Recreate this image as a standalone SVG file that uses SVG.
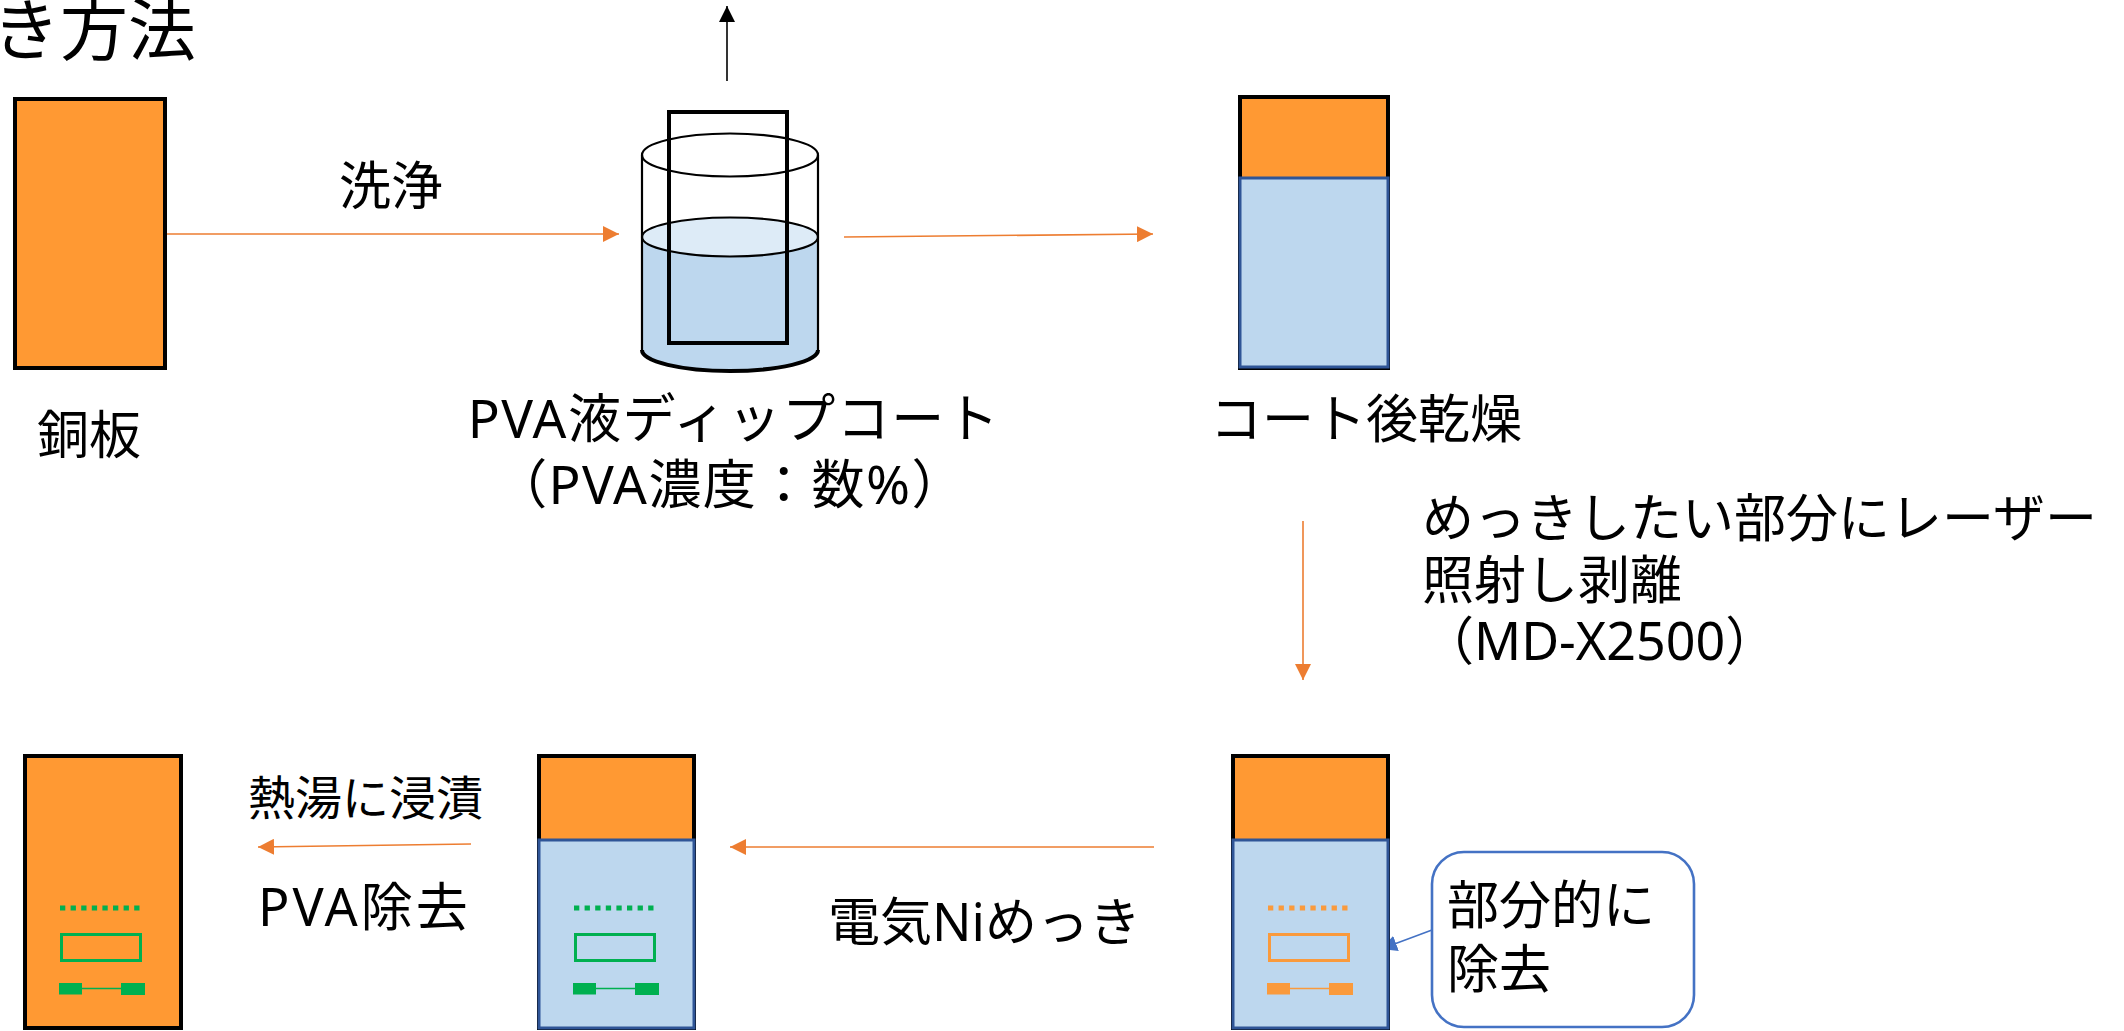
<svg xmlns="http://www.w3.org/2000/svg" width="2124" height="1031" viewBox="0 0 2124 1031">
  <style>
    text { font-family: "Noto Sans", "Noto Sans CJK JP", sans-serif; fill: #000; }
    .lbl { font-size: 52px; }
    .copper { fill: #FF9933; stroke: #000; stroke-width: 4; }
    .pva { fill: #BDD7EE; stroke: #2F5597; stroke-width: 3; }
    .flow { stroke: #ED7D31; stroke-width: 1.6; fill: none; marker-end: url(#ah-orange); }
    .lift { stroke: #000; stroke-width: 1.6; fill: none; marker-end: url(#ah-black); }
    .pointer { stroke: #4472C4; stroke-width: 1.6; fill: none; marker-end: url(#ah-blue); }
    .beaker-line { fill: none; stroke: #000; stroke-width: 2.2; }
  </style>
  <defs>
    <marker id="ah-orange" markerUnits="userSpaceOnUse" markerWidth="16" markerHeight="16" refX="15" refY="7.5" orient="auto" viewBox="0 0 15 15">
      <path d="M0,0 L15,7.5 L0,15 z" fill="#ED7D31"/>
    </marker>
    <marker id="ah-black" markerUnits="userSpaceOnUse" markerWidth="16" markerHeight="16" refX="15" refY="7.5" orient="auto" viewBox="0 0 15 15">
      <path d="M0,0 L15,7.5 L0,15 z" fill="#000"/>
    </marker>
    <marker id="ah-blue" markerUnits="userSpaceOnUse" markerWidth="16" markerHeight="16" refX="15" refY="7.5" orient="auto" viewBox="0 0 15 15">
      <path d="M0,0 L15,7.5 L0,15 z" fill="#4472C4"/>
    </marker>
    <!-- circuit pattern (pads, trace, outline, dotted row); colour via currentColor -->
    <g id="circuit">
      <path d="M35,908 H115" stroke="currentColor" stroke-width="5" stroke-dasharray="5.3 5.3" fill="none"/>
      <rect x="36.5" y="934.5" width="79" height="26" fill="none" stroke="currentColor" stroke-width="3"/>
      <rect x="34" y="983" width="23" height="11.5" fill="currentColor"/>
      <rect x="96" y="983" width="24" height="12" fill="currentColor"/>
      <path d="M57,988.5 H96" stroke="currentColor" stroke-width="1.5" fill="none"/>
    </g>
  </defs>

  <rect width="2124" height="1031" fill="#fff"/>

  <!-- heading -->
  <text x="-8" y="55" style="font-size:68px">き方法</text>

  <!-- connectors -->
  <g id="connectors">
    <path class="flow" d="M167,234 L619,234"/>
    <path class="flow" d="M844,237 L1153,234"/>
    <path class="lift" d="M727,81 L727,6"/>
    <path class="flow" d="M1303,521 L1303,680"/>
    <path class="flow" d="M1154,847 L730,847"/>
    <path class="flow" d="M471,844 L258,847"/>
    <path class="pointer" d="M1432,930 L1381,949"/>
    <text class="lbl" x="339" y="205">洗浄</text>
    <text class="lbl" x="248" y="815" style="font-size:47px">熱湯に浸漬</text>
    <text class="lbl" x="258" y="926" letter-spacing="3">PVA除去</text>
    <text class="lbl" x="828" y="941">電気Niめっき</text>
    <text class="lbl" x="1422" y="537">めっきしたい部分にレーザー</text>
    <text class="lbl" x="1422" y="599">照射し剥離</text>
    <text class="lbl" x="1422" y="660">（MD-X2500）</text>
  </g>

  <!-- bare copper plate -->
  <g id="copper-plate">
    <rect class="copper" x="15" y="99" width="150" height="269"/>
    <text class="lbl" x="37" y="454">銅板</text>
  </g>

  <!-- dip coating beaker -->
  <g id="dip-coat">
    <path d="M642,237 V350 A88,21 0 0 0 818,350 V237 Z" fill="#BDD7EE"/>
    <ellipse cx="730" cy="237" rx="88" ry="19.5" fill="#DDEBF7"/>
    <path class="beaker-line" d="M642,155 V350 M818,155 V350"/>
    <path d="M642,350 A88,21 0 0 0 818,350" fill="none" stroke="#000" stroke-width="4"/>
    <ellipse class="beaker-line" cx="730" cy="237" rx="88" ry="19.5" stroke-width="2.6"/>
    <ellipse class="beaker-line" cx="730" cy="155" rx="88" ry="21.5" stroke-width="2.6"/>
    <rect x="669" y="112" width="118" height="231" fill="none" stroke="#000" stroke-width="4"/>
    <text class="lbl" x="734" y="438" text-anchor="middle" letter-spacing="1.5" style="font-size:53px">PVA液ディップコート</text>
    <text class="lbl" x="730" y="504" text-anchor="middle" letter-spacing="1.4" style="font-size:53px">（PVA濃度：数%）</text>
  </g>

  <!-- coated and dried plate -->
  <g id="dried">
    <rect class="copper" x="1240" y="97" width="148" height="271"/>
    <rect class="pva" x="1240" y="178" width="148" height="189"/>
    <text class="lbl" x="1210" y="438">コート後乾燥</text>
  </g>

  <!-- plate after laser stripping -->
  <g id="laser-stripped">
    <rect class="copper" x="1233" y="756" width="155" height="272"/>
    <rect class="pva" x="1233" y="840" width="155" height="188"/>
    <use href="#circuit" x="1233" style="color:#FA9A3C"/>
  </g>

  <!-- callout -->
  <g id="callout">
    <rect x="1432" y="852" width="262" height="175" rx="32" ry="32" fill="#fff" stroke="#4472C4" stroke-width="2.6"/>
    <text class="lbl" x="1447" y="924">部分的に</text>
    <text class="lbl" x="1447" y="988">除去</text>
  </g>

  <!-- plate after Ni plating -->
  <g id="ni-plated">
    <rect class="copper" x="539" y="756" width="155" height="272"/>
    <rect class="pva" x="539" y="840" width="155" height="188"/>
    <use href="#circuit" x="539" style="color:#00B050"/>
  </g>

  <!-- plate after PVA removal -->
  <g id="finished">
    <rect class="copper" x="25" y="756" width="156" height="272"/>
    <use href="#circuit" x="25" style="color:#00B050"/>
  </g>
</svg>
